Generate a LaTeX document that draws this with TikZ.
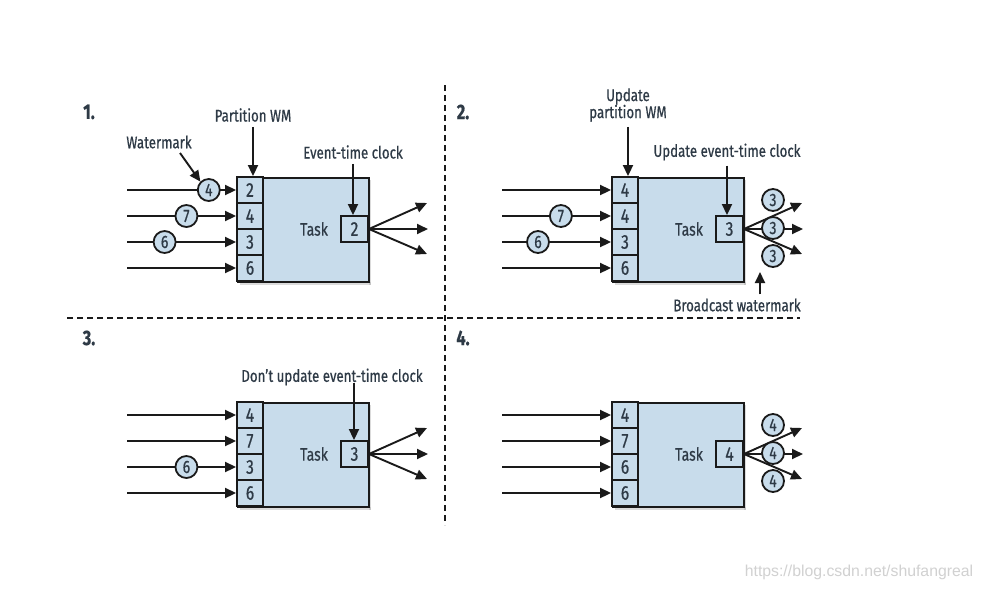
\documentclass[tikz,border=0pt]{standalone}
\usepackage{fontspec}
\setmainfont[FakeStretch=0.78,FakeBold=0.6]{Fira Sans}
\newfontfamily\urlfont{Liberation Sans}
\usetikzlibrary{arrows.meta}
\definecolor{boxfill}{HTML}{C8DCEB}
\definecolor{inkc}{HTML}{1A1A1A}
\definecolor{txtc}{HTML}{2E3A46}
\definecolor{shadowc}{HTML}{9A9A9A}
\tikzset{
  every node/.style={text=txtc},
  taskbox/.style={draw=inkc, fill=boxfill, line width=1.9pt, minimum width=131pt, minimum height=104pt, inner sep=0pt, anchor=north west},
  slotbox/.style={draw=inkc, fill=boxfill, line width=1.9pt, minimum width=26pt, minimum height=26pt, inner sep=0pt, font=\fontsize{20}{20}\selectfont},
  clockbox/.style={draw=inkc, fill=boxfill, line width=1.9pt, minimum width=27pt, minimum height=26pt, inner sep=0pt, font=\fontsize{20}{20}\selectfont},
  wm/.style={circle, draw=inkc, fill=boxfill, line width=1.8pt, minimum size=22pt, inner sep=0pt, font=\fontsize{18}{18}\selectfont},
  flow/.style={draw=inkc, line width=1.9pt, -{Triangle[length=11pt,width=10pt]}},
  lbl/.style={font=\fontsize{17}{19}\selectfont, align=center, inner sep=0pt},
  num/.style={font=\bfseries\fontsize{21}{21}\selectfont, inner sep=0pt},
  sep/.style={draw=inkc, line width=1.6pt, dash pattern=on 6pt off 4pt},
}
% #1 id, #2-#5 slots, #6 clock
\newcommand\taskpanel[6]{%
  \fill[shadowc, opacity=0.35] (3,104.8) rectangle (134,108);
  \fill[shadowc, opacity=0.35] (131.8,3) rectangle (134,108);
  \node[taskbox] (#1task) at (0,0) {};
  \node[slotbox] (#1s1) at (13,13) {#2};
  \node[slotbox] (#1s2) at (13,39) {#3};
  \node[slotbox] (#1s3) at (13,65) {#4};
  \node[slotbox] (#1s4) at (13,91) {#5};
  \node[clockbox] (#1clk) at (117.5,52) {#6};
  \node[font=\fontsize{18}{18}\selectfont] (#1tasklbl) at (77,52) {Task};
  \coordinate (#1i1) at (-110,13);
  \coordinate (#1i2) at (-110,39);
  \coordinate (#1i3) at (-110,65);
  \coordinate (#1i4) at (-110,91);
  \coordinate (#1o1) at (190,26);
  \coordinate (#1o2) at (191,52);
  \coordinate (#1o3) at (190,77);
  \draw[flow] (#1clk.east) -- (#1o1);
  \draw[flow] (#1clk.east) -- (#1o2);
  \draw[flow] (#1clk.east) -- (#1o3);
}
\begin{document}
\begin{tikzpicture}[x=1pt,y=-1pt]
\useasboundingbox[fill=white] (0,0) rectangle (982,590);

% separators
\coordinate (vtop) at (445,85);
\coordinate (vbot) at (445,525);
\coordinate (hl) at (67,318);
\coordinate (hr) at (800,318);
\draw[sep] (vtop) -- (vbot);
\draw[sep] (hl) -- (hr);

\node[num] (n1) at (89,112) {1.};
\node[num] (n2) at (463,112) {2.};
\node[num] (n3) at (89,338) {3.};
\node[num] (n4) at (463,338) {4.};

% ---------- panel 1
\begin{scope}[shift={(237,177)}]
\taskpanel{a}{2}{4}{3}{6}{2}
\draw[flow] (ai1) -- node[wm, pos=0.75] (aw4) {4} (as1.west);
\draw[flow] (ai2) -- node[wm, pos=0.545] (aw7) {7} (as2.west);
\draw[flow] (ai3) -- node[wm, pos=0.345] (aw6) {6} (as3.west);
\draw[flow] (ai4) -- (as4.west);
\end{scope}
\node[lbl] (pwm) at (253,115) {Partition WM};
\draw[flow] (pwm.south) ++(0,5) -- (pwm.south |- as1.north);
\node[lbl] (wml) at (159,142) {Watermark};
\coordinate (wmstart) at (180,153);
\draw[flow] (wmstart) -- (aw4.north west);
\node[lbl] (etc) at (353,152) {Event-time clock};
\draw[flow] (etc.south) ++(0,5) -- (etc.south |- aclk.north);

% ---------- panel 2
\begin{scope}[shift={(612,177)}]
\taskpanel{b}{4}{4}{3}{6}{3}
\draw[flow] (bi1) -- (bs1.west);
\draw[flow] (bi2) -- node[wm, pos=0.54] (bw7) {7} (bs2.west);
\draw[flow] (bi3) -- node[wm, pos=0.33] (bw6) {6} (bs3.west);
\draw[flow] (bi4) -- (bs4.west);
\node[wm] (bb1) at (161,23) {3};
\node[wm] (bb2) at (161,51) {3};
\node[wm] (bb3) at (161,79) {3};
\end{scope}
\node[lbl] (upwm) at (628,105) {Update\\[-2pt]partition WM};
\draw[flow] (upwm.south) ++(0,5) -- (upwm.south |- bs1.north);
\node[lbl] (uetc) at (727,152) {Update event-time clock};
\draw[flow] (uetc.south) ++(0,5) -- (uetc.south |- bclk.north);
\node[lbl] (bcw) at (737,305) {Broadcast watermark};
\coordinate (bcwtip) at (760,272);
\draw[flow] (bcw.north -| bcwtip) ++(0,-4) -- (bcwtip);

% ---------- panel 3
\begin{scope}[shift={(237,402)}]
\taskpanel{c}{4}{7}{3}{6}{3}
\draw[flow] (ci1) -- (cs1.west);
\draw[flow] (ci2) -- (cs2.west);
\draw[flow] (ci3) -- node[wm, pos=0.545] (cw6) {6} (cs3.west);
\draw[flow] (ci4) -- (cs4.west);
\end{scope}
\node[lbl] (dtc) at (332,377) {Don't update event-time clock};
\coordinate (dtcx) at (354,383);
\draw[flow] (dtcx) -- (dtcx |- cclk.north);

% ---------- panel 4
\begin{scope}[shift={(612,402)}]
\taskpanel{d}{4}{7}{6}{6}{4}
\draw[flow] (di1) -- (ds1.west);
\draw[flow] (di2) -- (ds2.west);
\draw[flow] (di3) -- (ds3.west);
\draw[flow] (di4) -- (ds4.west);
\node[wm] (db1) at (161,23) {4};
\node[wm] (db2) at (161,51) {4};
\node[wm] (db3) at (161,79) {4};
\end{scope}

\node[font=\urlfont\fontsize{15.8}{16}\selectfont, text=black!18] (url) at (859,572) {https://blog.csdn.net/shufangreal};
\end{tikzpicture}
\end{document}
